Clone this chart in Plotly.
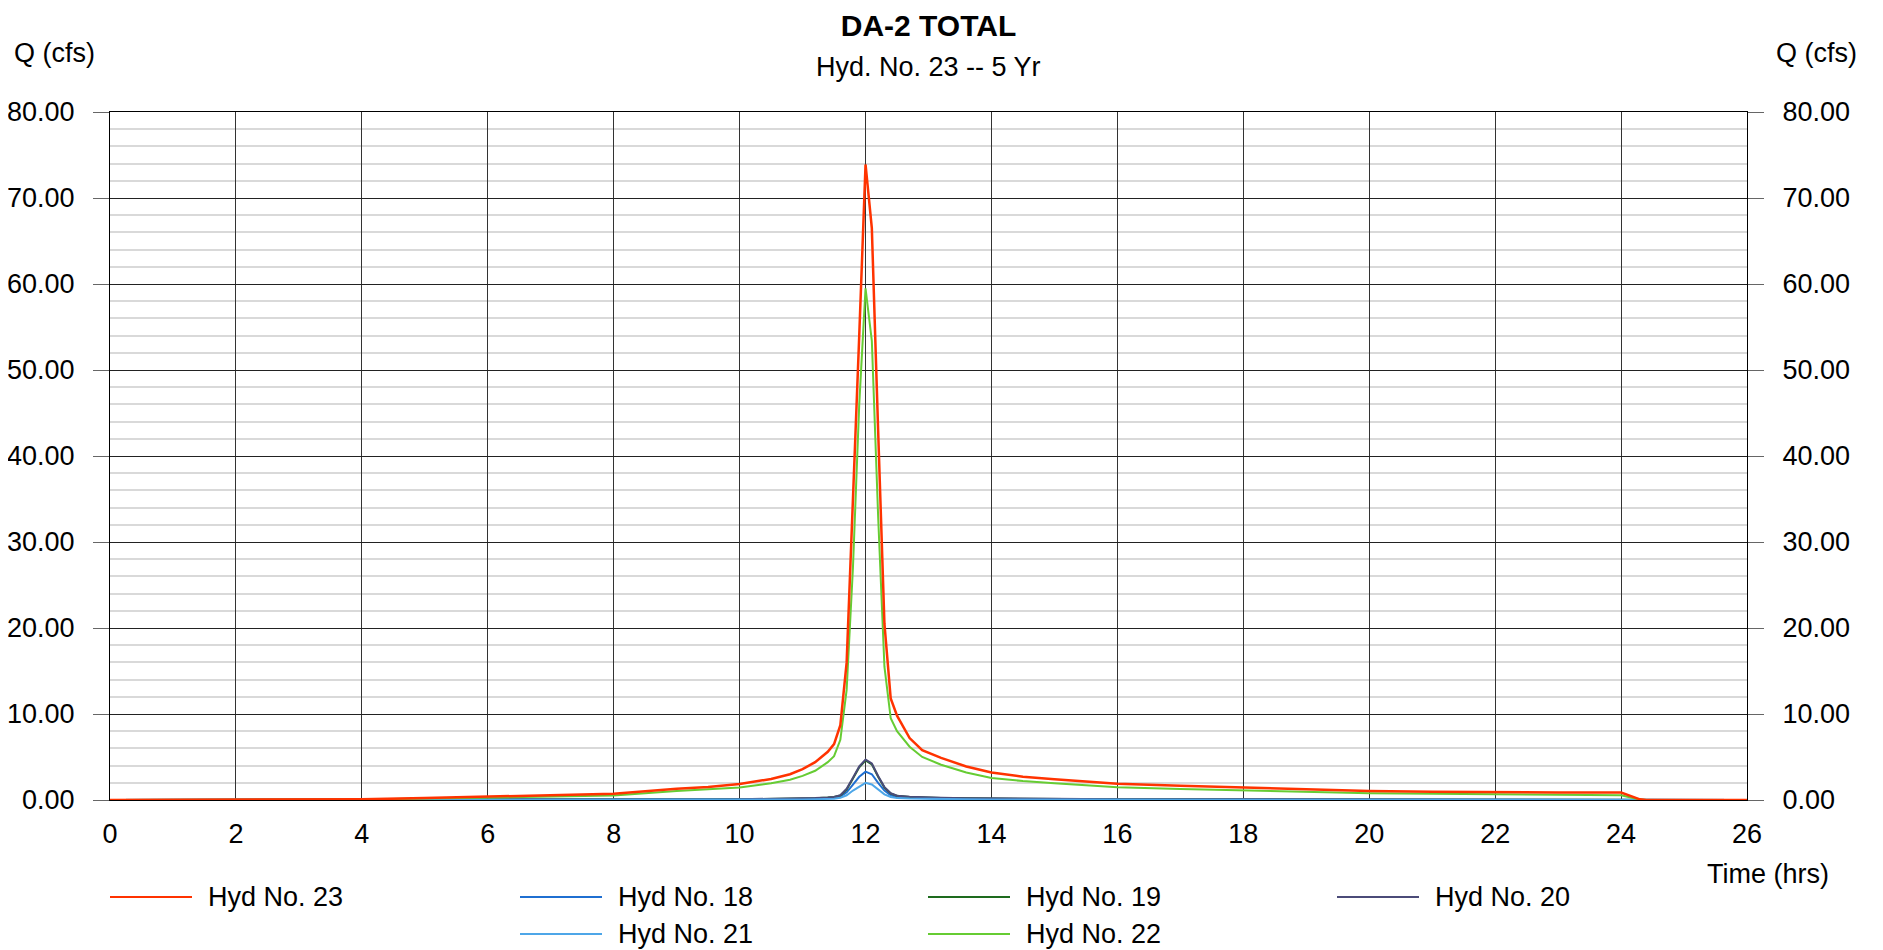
import plotly.graph_objects as go

# hydrograph ordinates
time_hrs = [0, 3.3, 4, 5, 6, 7, 8, 9,
            9.5, 10, 10.5, 10.8, 11.0, 11.2, 11.4, 11.5,
            11.6, 11.7, 11.8, 11.9, 12.0, 12.1, 12.2, 12.3,
            12.4, 12.5, 12.7, 12.9, 13.2, 13.6, 14, 14.5,
            15, 16, 17, 18, 19, 20, 21, 22,
            23, 24, 24.1, 24.2, 24.3, 24.4, 26]

hyd_23 = [0, 0, 0.08, 0.22, 0.39, 0.58, 0.74, 1.3,
          1.5, 1.85, 2.45, 3.0, 3.6, 4.4, 5.6, 6.5,
          8.7, 16, 34, 54, 73.9, 66.5, 43, 20.5,
          11.8, 9.8, 7.2, 5.8, 4.9, 3.9, 3.2, 2.7,
          2.4, 1.9, 1.65, 1.44, 1.25, 1.05, 0.97, 0.9,
          0.88, 0.86, 0.62, 0.3, 0.08, 0, 0]
hyd_18 = [0, 0, 0, 0.01, 0.01, 0.02, 0.03, 0.04,
          0.05, 0.06, 0.08, 0.1, 0.12, 0.15, 0.2, 0.25,
          0.4, 0.9, 1.8, 2.7, 3.3, 3.0, 2.0, 1.1,
          0.55, 0.35, 0.26, 0.21, 0.17, 0.14, 0.12, 0.1,
          0.09, 0.07, 0.06, 0.05, 0.05, 0.04, 0.04, 0.04,
          0.03, 0.03, 0.02, 0.01, 0, 0, 0]
hyd_19 = [0, 0, 0, 0.01, 0.02, 0.04, 0.05, 0.06,
          0.07, 0.09, 0.12, 0.14, 0.17, 0.21, 0.28, 0.34,
          0.52, 1.2, 2.5, 3.8, 4.6, 4.15, 2.7, 1.45,
          0.75, 0.48, 0.36, 0.29, 0.24, 0.19, 0.16, 0.13,
          0.11, 0.09, 0.08, 0.07, 0.06, 0.06, 0.05, 0.05,
          0.05, 0.04, 0.03, 0.01, 0, 0, 0]
hyd_20 = [0, 0, 0, 0.01, 0.02, 0.04, 0.05, 0.06,
          0.07, 0.09, 0.12, 0.15, 0.18, 0.22, 0.3, 0.36,
          0.55, 1.3, 2.6, 3.9, 4.7, 4.25, 2.8, 1.5,
          0.78, 0.5, 0.38, 0.3, 0.25, 0.2, 0.17, 0.14,
          0.12, 0.1, 0.09, 0.08, 0.07, 0.06, 0.06, 0.05,
          0.05, 0.05, 0.03, 0.01, 0, 0, 0]
hyd_21 = [0, 0, 0, 0, 0.01, 0.01, 0.02, 0.02,
          0.03, 0.04, 0.05, 0.06, 0.07, 0.09, 0.12, 0.15,
          0.25, 0.55, 1.1, 1.6, 2.0, 1.8, 1.2, 0.65,
          0.35, 0.22, 0.16, 0.13, 0.1, 0.08, 0.07, 0.06,
          0.05, 0.04, 0.04, 0.03, 0.03, 0.03, 0.02, 0.02,
          0.02, 0.02, 0.01, 0, 0, 0, 0]
hyd_22 = [0, 0, 0.05, 0.16, 0.3, 0.42, 0.52, 1.05,
          1.25, 1.45, 1.95, 2.35, 2.8, 3.4, 4.4, 5.1,
          7.0, 12.8, 27, 46, 59.5, 53.4, 33, 15.5,
          9.5, 8.0, 6.2, 5.0, 4.1, 3.2, 2.57, 2.2,
          1.95, 1.48, 1.28, 1.1, 0.93, 0.78, 0.72, 0.66,
          0.6, 0.55, 0.38, 0.18, 0.05, 0, 0]

# legend order as in the reference
names = ["Hyd No. 23", "Hyd No. 18", "Hyd No. 19", "Hyd No. 20", "Hyd No. 21", "Hyd No. 22"]
series = [hyd_23, hyd_18, hyd_19, hyd_20, hyd_21, hyd_22]
colors = ["#FF3300", "#1F6FD1", "#1E6B1E", "#4B4B78", "#4DA6E8", "#66CC33"]
widths = [2.5, 2, 2, 2, 2, 2]
draw_order = [1, 2, 3, 4, 5, 0]

FONT = "Arial, Liberation Sans, sans-serif"
W, H = 1875, 942          # page body has an 8px margin
L, R, T, B = 102, 1739, 104, 792
PW, PH = R - L, B - T

fig = go.Figure()
for i in draw_order:
    fig.add_trace(go.Scatter(x=time_hrs, y=series[i], name=names[i], mode="lines",
                             line=dict(color=colors[i], width=widths[i]), showlegend=False))

# right axis mirror
fig.add_trace(go.Scatter(x=[0, 26], y=[0, 80], yaxis="y2", mode="lines",
                         line=dict(width=0), hoverinfo="skip", showlegend=False))

# hand-drawn legend, 4 columns x 2 rows
leg_col = [0, 1, 2, 3, 1, 2]
leg_row = [0, 0, 0, 0, 1, 1]
col_px = [102, 512, 920, 1329]
row_px = [889, 926]


def px_x(p):
    return (p - L) / PW


def px_y(p):
    return (B - p) / PH


for i, nm in enumerate(names):
    x0 = col_px[leg_col[i]]
    y0 = row_px[leg_row[i]]
    fig.add_shape(type="line", xref="paper", yref="paper",
                  x0=px_x(x0), x1=px_x(x0 + 82), y0=px_y(y0), y1=px_y(y0),
                  line=dict(color=colors[i], width=2))
    fig.add_annotation(text=nm, xref="paper", yref="paper", x=px_x(x0 + 96), y=px_y(y0),
                       xanchor="left", yanchor="middle", showarrow=False,
                       font=dict(size=27, color="#000", family=FONT))

fig.add_annotation(text="Q (cfs)", xref="paper", yref="paper", x=px_x(4), y=px_y(45),
                   xanchor="left", yanchor="middle", showarrow=False,
                   font=dict(size=27, color="#000", family=FONT))
fig.add_annotation(text="Q (cfs)", xref="paper", yref="paper", x=px_x(1851), y=px_y(45),
                   xanchor="right", yanchor="middle", showarrow=False,
                   font=dict(size=27, color="#000", family=FONT))
fig.add_annotation(text="Time (hrs)", xref="paper", yref="paper", x=px_x(1823), y=px_y(866),
                   xanchor="right", yanchor="middle", showarrow=False,
                   font=dict(size=27, color="#000", family=FONT))
fig.add_annotation(text="Hyd. No. 23 -- 5 Yr", xref="paper", yref="paper", x=0.5, y=px_y(59),
                   xanchor="center", yanchor="middle", showarrow=False,
                   font=dict(size=27, color="#000", family=FONT))

yax = dict(range=[0, 80], dtick=10, tickformat=".2f", ticks="outside", ticklen=16,
           tickcolor="#666", tickwidth=1, ticklabelstandoff=13, automargin=False,
           tickfont=dict(size=27, color="#000", family=FONT), zeroline=False, fixedrange=True)

fig.update_layout(
    width=W, height=H,
    margin=dict(l=L, r=W - R, t=T, b=H - B),
    paper_bgcolor="white", plot_bgcolor="white",
    title=dict(text="<b>DA-2 TOTAL</b>", x=0.5, xref="paper", xanchor="center",
               y=1 - 17 / H, yanchor="middle",
               font=dict(size=30, color="#000", family=FONT)),
    xaxis=dict(range=[0, 26], dtick=2, showgrid=True, gridcolor="#333", gridwidth=1,
               showline=True, linecolor="#000", linewidth=1, mirror=True,
               zeroline=False, ticks="", ticklabelstandoff=10, automargin=False,
               tickfont=dict(size=27, color="#000", family=FONT)),
    yaxis=dict(**yax, showgrid=True, gridcolor="#222", gridwidth=1,
               showline=True, linecolor="#000", linewidth=1, mirror=True,
               minor=dict(dtick=2, showgrid=True, gridcolor="#d9d9d9", gridwidth=1.5)),
    yaxis2=dict(**yax, overlaying="y", side="right", showgrid=False),
    showlegend=False,
)

fig.write_html("out.html")
